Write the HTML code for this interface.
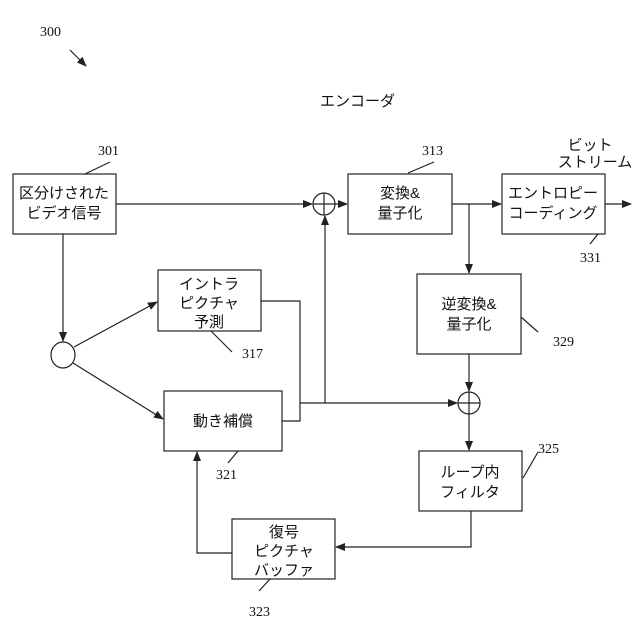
<!DOCTYPE html>
<html><head><meta charset="utf-8"><style>
body{margin:0;background:#fff}
svg{display:block}
text{font-family:"Liberation Sans","Noto Sans CJK JP",sans-serif;font-size:15px;fill:#111}
.n{font-family:"Liberation Serif",serif;font-size:14px}
rect,line,polyline,circle,ellipse{stroke:#222;stroke-width:1.2;fill:none}
</style></head><body>
<svg width="640" height="640" viewBox="0 0 640 640">
<defs><marker id="a" markerWidth="10" markerHeight="8" refX="9" refY="4" orient="auto" markerUnits="userSpaceOnUse"><path d="M0,0 L10,4 L0,8 z" fill="#222"/></marker></defs>
<text class="n" x="40" y="36">300</text>
<line x1="70" y1="50" x2="86" y2="66" marker-end="url(#a)"/>
<text x="320" y="106">エンコーダ</text>

<rect x="13" y="174" width="103" height="60"/>
<text x="64" y="198" text-anchor="middle">区分けされた</text>
<text x="64" y="218" text-anchor="middle">ビデオ信号</text>
<text class="n" x="98" y="155">301</text><line x1="85" y1="174" x2="110" y2="162"/>

<circle cx="324" cy="204" r="11"/><line x1="313" y1="204" x2="335" y2="204"/><line x1="324" y1="193" x2="324" y2="215"/>

<rect x="348" y="174" width="104" height="60"/>
<text x="400" y="198" text-anchor="middle">変換&amp;</text>
<text x="400" y="218" text-anchor="middle">量子化</text>
<text class="n" x="422" y="155">313</text><line x1="408" y1="173" x2="434" y2="162"/>

<rect x="502" y="174" width="103" height="60"/>
<text x="553" y="198" text-anchor="middle">エントロピー</text>
<text x="553" y="218" text-anchor="middle">コーディング</text>
<text x="590" y="150" text-anchor="middle">ビット</text>
<text x="595" y="167" text-anchor="middle">ストリーム</text>
<text class="n" x="580" y="262">331</text><line x1="598" y1="234" x2="590" y2="244"/>

<rect x="417" y="274" width="104" height="80"/>
<text x="469" y="309" text-anchor="middle">逆変換&amp;</text>
<text x="469" y="329" text-anchor="middle">量子化</text>
<text class="n" x="553" y="346">329</text><line x1="521" y1="317" x2="538" y2="332"/>

<circle cx="469" cy="403" r="11"/><line x1="458" y1="403" x2="480" y2="403"/><line x1="469" y1="392" x2="469" y2="414"/>

<rect x="419" y="451" width="103" height="60"/>
<text x="470" y="477" text-anchor="middle">ループ内</text>
<text x="470" y="497" text-anchor="middle">フィルタ</text>
<text class="n" x="538" y="453">325</text><line x1="523" y1="478" x2="538" y2="452"/>

<rect x="232" y="519" width="103" height="60"/>
<text x="284" y="537" text-anchor="middle">復号</text>
<text x="284" y="556" text-anchor="middle">ピクチャ</text>
<text x="284" y="575" text-anchor="middle">バッファ</text>
<text class="n" x="249" y="616">323</text><line x1="270" y1="579" x2="259" y2="591"/>

<rect x="164" y="391" width="118" height="60"/>
<text x="223" y="426" text-anchor="middle">動き補償</text>
<text class="n" x="216" y="479">321</text><line x1="238" y1="451" x2="228" y2="463"/>

<rect x="158" y="270" width="103" height="61"/>
<text x="209" y="289" text-anchor="middle">イントラ</text>
<text x="209" y="308" text-anchor="middle">ピクチャ</text>
<text x="209" y="327" text-anchor="middle">予測</text>
<text class="n" x="242" y="358">317</text><line x1="211" y1="331" x2="232" y2="352"/>

<ellipse cx="63" cy="355" rx="12" ry="13"/>

<line x1="116" y1="204" x2="312" y2="204" marker-end="url(#a)"/>
<line x1="63" y1="234" x2="63" y2="341" marker-end="url(#a)"/>
<line x1="74" y1="347" x2="157" y2="302" marker-end="url(#a)"/>
<line x1="73" y1="363" x2="163" y2="419" marker-end="url(#a)"/>
<polyline points="261,301 300,301 300,421 282,421"/>
<line x1="300" y1="403" x2="457" y2="403" marker-end="url(#a)"/>
<line x1="325" y1="403" x2="325" y2="216" marker-end="url(#a)"/>
<line x1="335" y1="204" x2="347" y2="204" marker-end="url(#a)"/>
<line x1="452" y1="204" x2="501" y2="204" marker-end="url(#a)"/>
<line x1="605" y1="204" x2="631" y2="204" marker-end="url(#a)"/>
<line x1="469" y1="204" x2="469" y2="273" marker-end="url(#a)"/>
<line x1="469" y1="354" x2="469" y2="391" marker-end="url(#a)"/>
<line x1="469" y1="414" x2="469" y2="450" marker-end="url(#a)"/>
<polyline points="471,511 471,547 336,547" marker-end="url(#a)"/>
<polyline points="232,553 197,553 197,452" marker-end="url(#a)"/>
</svg>
</body></html>
